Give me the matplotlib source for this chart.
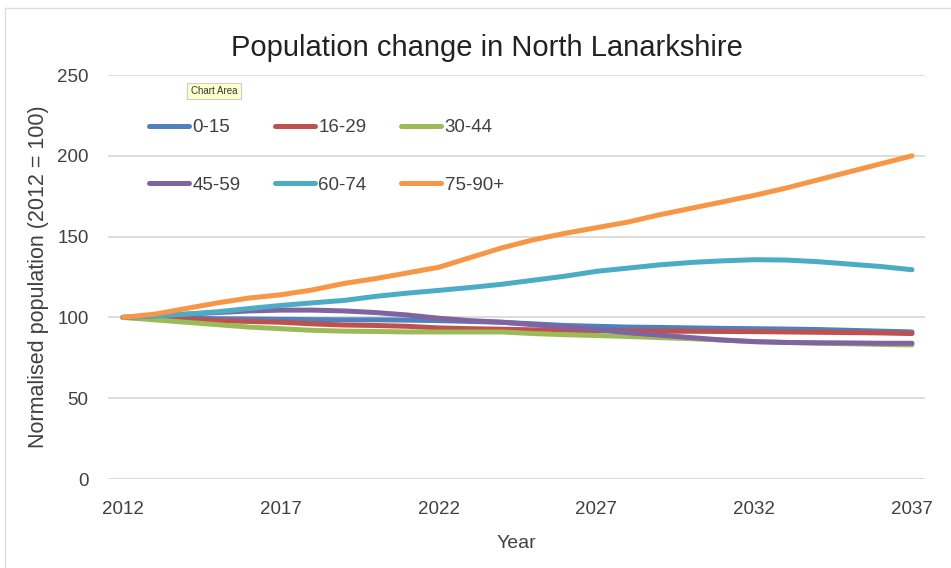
import numpy as np
import matplotlib
matplotlib.use('Agg')
import matplotlib.pyplot as plt

# Data (normalised, 2012 = 100)
years = list(range(2012, 2038))

age_0_15 = [100, 99.7, 99.5, 99.2, 99, 98.8, 98.6, 98.5, 98.5, 98.3, 98, 97.5, 97,
            96, 95, 94.5, 94, 93.8, 93.5, 93.2, 93, 92.8, 92.5, 92, 91.5, 91]
age_16_29 = [100, 99.5, 99, 98, 97.5, 97, 96, 95.3, 95, 94.5, 93.5, 93, 92.7,
             92.3, 92, 91.8, 91.6, 91.5, 91.4, 91.3, 91.2, 91, 90.8, 90.6, 90.4, 90]
age_30_44 = [100, 98.5, 97, 95.5, 94, 93, 92, 91.5, 91.3, 91, 91, 91, 91,
             90, 89.3, 88.8, 88.2, 87.5, 86.8, 86, 85, 84.5, 84, 83.7, 83.3, 83]
age_45_59 = [100, 101, 102, 103, 104, 104.5, 104.5, 104, 103, 101.5, 99.5, 98, 97,
             95.5, 94, 92.5, 90.5, 89, 87.5, 86, 85, 84.5, 84.3, 84.2, 84, 84]
age_60_74 = [100, 101, 102, 103.5, 105.5, 107.4, 109, 110.5, 113, 115, 116.7, 118.5, 120.5,
             123, 125.5, 128.5, 130.5, 132.5, 134, 135, 135.7, 135.5, 134.5, 133, 131.5, 129.5]
age_75_90 = [100, 102, 105.5, 109, 112, 114, 117, 121, 124, 127.5, 131, 137, 143,
             148, 152, 155.5, 159, 163.5, 167.5, 171.5, 175.5, 180, 185, 190, 195, 200]

series_labels = ['0-15', '16-29', '30-44', '45-59', '60-74', '75-90+']
series_colors = ['#4f81bd', '#c0504d', '#9bbb59', '#8064a2', '#4bacc6', '#f79646']
x_ticks = [2012, 2017, 2022, 2027, 2032, 2037]
y_ticks = [0, 50, 100, 150, 200, 250]

plt.rcParams['font.family'] = ['Liberation Sans', 'DejaVu Sans']
text_color = '#404040'

fig = plt.figure(figsize=(9.51, 5.68), dpi=100, facecolor='white')

# faint frame of the screenshot
fig.add_artist(plt.Line2D([5 / 951, 5 / 951], [0, 1 - 8 / 568], color='#dddddd', linewidth=1))
fig.add_artist(plt.Line2D([5 / 951, 1], [1 - 8 / 568, 1 - 8 / 568], color='#dddddd', linewidth=1))

ax = fig.add_axes([108 / 951, 1 - 479 / 568, 817 / 951, 404 / 568])

all_series = [age_0_15, age_16_29, age_30_44, age_45_59, age_60_74, age_75_90]
handles = []
for values, label, color in zip(all_series, series_labels, series_colors):
    line, = ax.plot(years, values, color=color, linewidth=3.6, label=label,
                    solid_capstyle='round', solid_joinstyle='round')
    handles.append(line)

ax.set_xlim(2012 - 15 / 31.56, 2037 + 13 / 31.56)
ax.set_ylim(0, 250)
ax.set_xticks(x_ticks)
ax.set_yticks(y_ticks)
ax.grid(True, axis='y', color='#dddddd', linewidth=1.4)
ax.set_axisbelow(True)
ax.tick_params(length=0, labelsize=13.5, colors=text_color)
ax.tick_params(axis='x', pad=16)
ax.tick_params(axis='y', pad=14)
for spine in ax.spines.values():
    spine.set_visible(False)

ax.set_xlabel('Year', fontsize=14, color=text_color, labelpad=12)
ax.set_ylabel('Normalised population (2012 = 100)', fontsize=15.5, color=text_color, labelpad=6)
fig.text(487 / 951, 1 - 48 / 568, 'Population change in North Lanarkshire',
         fontsize=21, color='#222222', ha='center', va='center')

# legend laid out row by row (matplotlib fills columns first)
order = [0, 3, 1, 4, 2, 5]
leg = ax.legend([handles[i] for i in order], [series_labels[i] for i in order],
                ncol=3, loc='upper left', bbox_to_anchor=(0.03, 0.933), frameon=False,
                fontsize=13.5, handlelength=2.1, handletextpad=0.2, columnspacing=1.85,
                labelspacing=2.15)
for txt in leg.get_texts():
    txt.set_color(text_color)

# tooltip left on the screenshot
fig.text(214 / 951, 1 - 91 / 568, 'Chart Area', fontsize=7, color='#333333',
         ha='center', va='center',
         bbox=dict(boxstyle='square,pad=0.35', facecolor='#ffffcc', edgecolor='#cccccc', linewidth=0.8))

fig.savefig('out.png', dpi=100, facecolor='white')
